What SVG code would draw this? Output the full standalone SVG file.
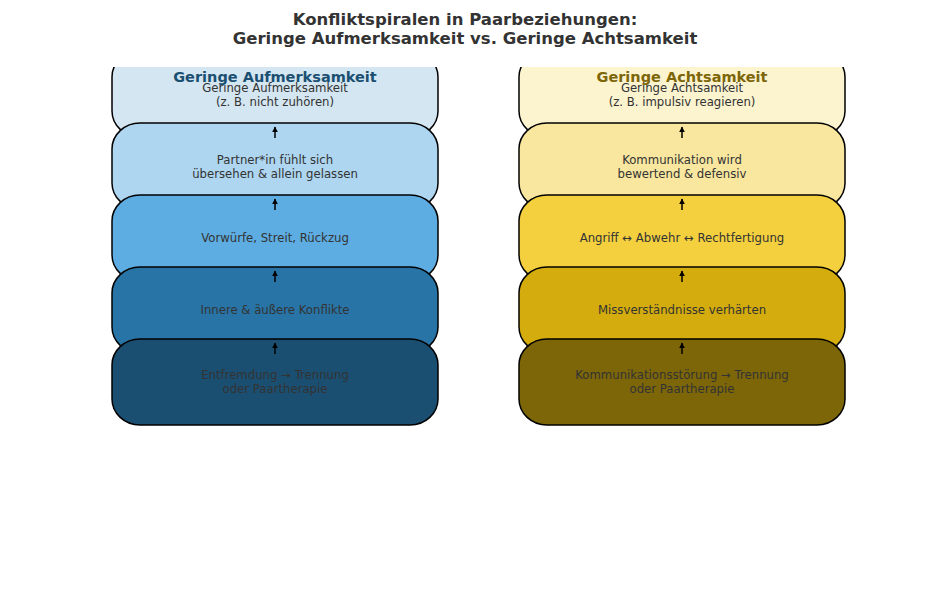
<svg xmlns="http://www.w3.org/2000/svg" width="930" height="592" viewBox="0 0 930 592">
<defs>
<clipPath id="ax"><rect x="0" y="67" width="930" height="525"/></clipPath>
<marker id="ah" viewBox="0 0 10 10" refX="9" refY="5" markerWidth="6" markerHeight="6" orient="auto" markerUnits="userSpaceOnUse"><path d="M0,0 L10,5 L0,10 z" fill="#000"/></marker>
</defs>
<style>
.box{stroke:#000;stroke-width:1.5}
.t{font-family:"DejaVu Sans",sans-serif;font-size:11.7px;fill:#333;text-anchor:middle}
.h{font-family:"DejaVu Sans",sans-serif;font-size:14.5px;font-weight:bold;text-anchor:middle}
.title{font-family:"DejaVu Sans",sans-serif;font-size:16.5px;font-weight:bold;fill:#333;text-anchor:middle}
.c{stroke:#000;stroke-width:1.5;fill:none}
</style>
<rect width="930" height="592" fill="#fff"/>
<text class="title" x="465" y="25">Konfliktspiralen in Paarbeziehungen:</text>
<text class="title" x="465" y="44">Geringe Aufmerksamkeit vs. Geringe Achtsamkeit</text>
<g clip-path="url(#ax)">
<g id="a1"><rect class="box" x="112" y="51" width="326" height="86" rx="28" ry="26" fill="#d4e6f1"/><text class="t" x="275" y="92">Geringe Aufmerksamkeit</text><text class="t" x="275" y="106">(z. B. nicht zuhören)</text></g>
<g id="a2"><rect class="box" x="112" y="123" width="326" height="86" rx="28" ry="26" fill="#aed6f1"/><text class="t" x="275" y="164">Partner*in fühlt sich</text><text class="t" x="275" y="178">übersehen &amp; allein gelassen</text></g>
<g id="a3"><rect class="box" x="112" y="195" width="326" height="86" rx="28" ry="26" fill="#5dade2"/><text class="t" x="275" y="242">Vorwürfe, Streit, Rückzug</text></g>
<g id="a4"><rect class="box" x="112" y="267" width="326" height="86" rx="28" ry="26" fill="#2874a6"/><text class="t" x="275" y="314">Innere &amp; äußere Konflikte</text></g>
<g id="a5"><rect class="box" x="112" y="339" width="326" height="86" rx="28" ry="26" fill="#1b4f72"/><text class="t" x="275" y="379">Entfremdung → Trennung</text><text class="t" x="275" y="393">oder Paartherapie</text></g>
<g id="b1"><rect class="box" x="519" y="51" width="326" height="86" rx="28" ry="26" fill="#fcf3cf"/><text class="t" x="682" y="92">Geringe Achtsamkeit</text><text class="t" x="682" y="106">(z. B. impulsiv reagieren)</text></g>
<g id="b2"><rect class="box" x="519" y="123" width="326" height="86" rx="28" ry="26" fill="#f9e79f"/><text class="t" x="682" y="164">Kommunikation wird</text><text class="t" x="682" y="178">bewertend &amp; defensiv</text></g>
<g id="b3"><rect class="box" x="519" y="195" width="326" height="86" rx="28" ry="26" fill="#f4d03f"/><text class="t" x="682" y="242">Angriff ↔ Abwehr ↔ Rechtfertigung</text></g>
<g id="b4"><rect class="box" x="519" y="267" width="326" height="86" rx="28" ry="26" fill="#d4ac0d"/><text class="t" x="682" y="314">Missverständnisse verhärten</text></g>
<g id="b5"><rect class="box" x="519" y="339" width="326" height="86" rx="28" ry="26" fill="#7d6608"/><text class="t" x="682" y="379">Kommunikationsstörung → Trennung</text><text class="t" x="682" y="393">oder Paartherapie</text></g>
<g id="connectors">
<line class="c" x1="275" y1="138" x2="275" y2="127" marker-end="url(#ah)"/>
<line class="c" x1="275" y1="210" x2="275" y2="199" marker-end="url(#ah)"/>
<line class="c" x1="275" y1="282" x2="275" y2="271" marker-end="url(#ah)"/>
<line class="c" x1="275" y1="354" x2="275" y2="343" marker-end="url(#ah)"/>
<line class="c" x1="682" y1="138" x2="682" y2="127" marker-end="url(#ah)"/>
<line class="c" x1="682" y1="210" x2="682" y2="199" marker-end="url(#ah)"/>
<line class="c" x1="682" y1="282" x2="682" y2="271" marker-end="url(#ah)"/>
<line class="c" x1="682" y1="354" x2="682" y2="343" marker-end="url(#ah)"/>
</g>
<text class="h" x="275" y="82" fill="#1b4f72">Geringe Aufmerksamkeit</text>
<text class="h" x="682" y="82" fill="#7d6608">Geringe Achtsamkeit</text>
</g>
</svg>
